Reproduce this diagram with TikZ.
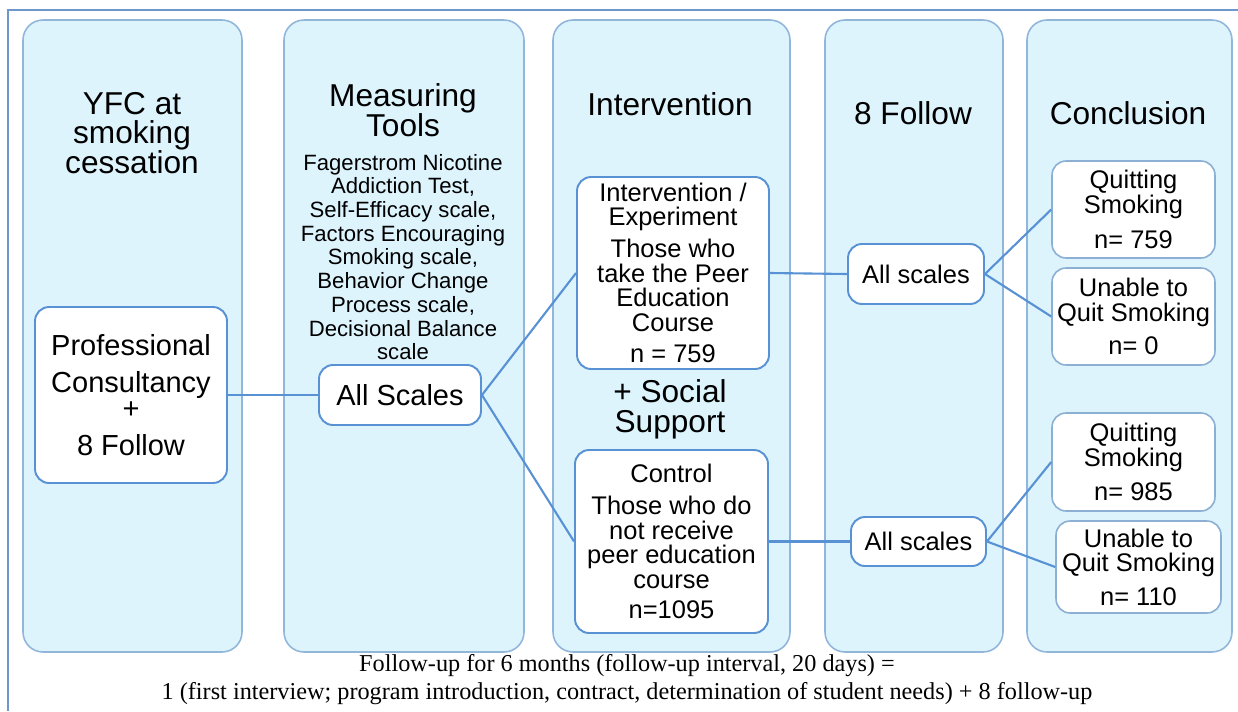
\documentclass[tikz,border=0pt]{standalone}
\usepackage{fontspec}
\setmainfont{Liberation Serif}
\setsansfont{Liberation Sans}
\definecolor{colfill}{RGB}{221,244,253}
\definecolor{colline}{RGB}{145,182,218}
\definecolor{boxline}{RGB}{88,145,212}
\definecolor{endline}{RGB}{140,175,212}
\definecolor{frameline}{RGB}{110,152,205}

\begin{document}
\begin{tikzpicture}[x=0.02cm,y=-0.02cm,
  column/.style={draw=colline,fill=colfill,line width=0.9pt,rounded corners=0.4cm},
  head/.style={font=\sffamily\fontsize{18}{17}\selectfont,align=center,inner sep=0},
  main node/.style={draw=boxline,fill=white,line width=1.1pt,rounded corners=0.28cm,align=center,inner sep=0,font=\sffamily\fontsize{14.5}{14}\selectfont},
  end node/.style={main node,draw=endline,line width=0.9pt},
  link/.style={draw=boxline,line width=1.2pt}]
        \useasboundingbox (0,0) rectangle (1238,711);
        \draw [frameline, line width=1.2pt] (1238,10) -- (8,10) -- (8,711);
        % columns
        \draw [column] (23,20) rectangle (242,652);
        \draw [column] (284,20) rectangle (524,652);
        \draw [column] (553,20) rectangle (790,652);
        \draw [column] (825,20) rectangle (1003,652);
        \draw [column] (1027,20) rectangle (1232,652);
        \node [head] (h1) at (132,133) {YFC at\\smoking\\cessation};
        \node [head] (h2) at (403,110) {Measuring\\Tools};
        \node [head] (h3) at (670,104) {Intervention};
        \node [head] (h4) at (913,113) {8 Follow};
        \node [head] (h5) at (1128,113) {Conclusion};
        \node [head] (soc) at (670,409) {+ Social\\Support};
        \node [font=\sffamily\fontsize{12.6}{13.5}\selectfont, align=center, inner sep=0] (tools) at (403,257) {Fagerstrom Nicotine\\Addiction Test,\\Self-Efficacy scale,\\Factors Encouraging\\Smoking scale,\\Behavior Change\\Process scale,\\Decisional Balance\\scale};
        % boxes
        \node [main node, minimum width=3.84cm, minimum height=3.52cm, font=\sffamily\fontsize{16.5}{19}\selectfont] (1) at (131,395) {Professional\\[2pt]Consultancy\\[-4pt]+\\[1.5pt]8 Follow};
        \node [main node, minimum width=3.24cm, minimum height=1.2cm, font=\sffamily\fontsize{16.5}{19}\selectfont] (2) at (400,395) {All Scales};
        \node [main node, minimum width=3.84cm, minimum height=3.84cm] (3) at (673,273) {Intervention /\\Experiment\\[4pt]Those who\\take the Peer\\Education\\Course\\[4pt]n = 759};
        \node [main node, minimum width=3.86cm, minimum height=3.66cm] (4) at (671.5,541.5) {Control\\[4pt]Those who do\\not receive\\peer education\\course\\[3pt]n=1095};
        \node [main node, minimum width=2.72cm, minimum height=1.2cm] (5) at (916,274) {All scales};
        \node [main node, minimum width=2.7cm, minimum height=0.98cm] (6) at (918.5,541.5) {All scales};
        \node [end node, minimum width=3.26cm, minimum height=1.94cm] (7) at (1133.5,209.5) {Quitting\\Smoking\\[6pt]n= 759};
        \node [end node, minimum width=3.26cm, minimum height=1.94cm] (8) at (1133.5,316.5) {Unable to\\Quit Smoking\\[5pt]n= 0};
        \node [end node, minimum width=3.26cm, minimum height=1.96cm] (9) at (1133.5,462) {Quitting\\Smoking\\[5.5pt]n= 985};
        \node [end node, minimum width=3.3cm, minimum height=1.84cm] (10) at (1138.5,567) {Unable to\\Quit Smoking\\[5pt]n= 110};
        \path [link] (1) edge (2);
        \path [link] (2.east) edge (3.west);
        \path [link] (2.east) edge (4.west);
        \path [link] (3.east) edge (5.west);
        \path [link] (4.east) edge (6.west);
        \path [link] (5.east) edge (7.west);
        \path [link] (5.east) edge (8.west);
        \path [link] (6.east) edge (9.west);
        \path [link] (6.east) edge (10.west);
        \node [font=\fontsize{13.8}{16}\selectfont, align=center, inner sep=0] (note) at (627,680) {Follow-up for 6 months (follow-up interval, 20 days) =\\1 (first interview; program introduction, contract, determination of student needs) + 8 follow-up};
    \end{tikzpicture}
\end{document}
